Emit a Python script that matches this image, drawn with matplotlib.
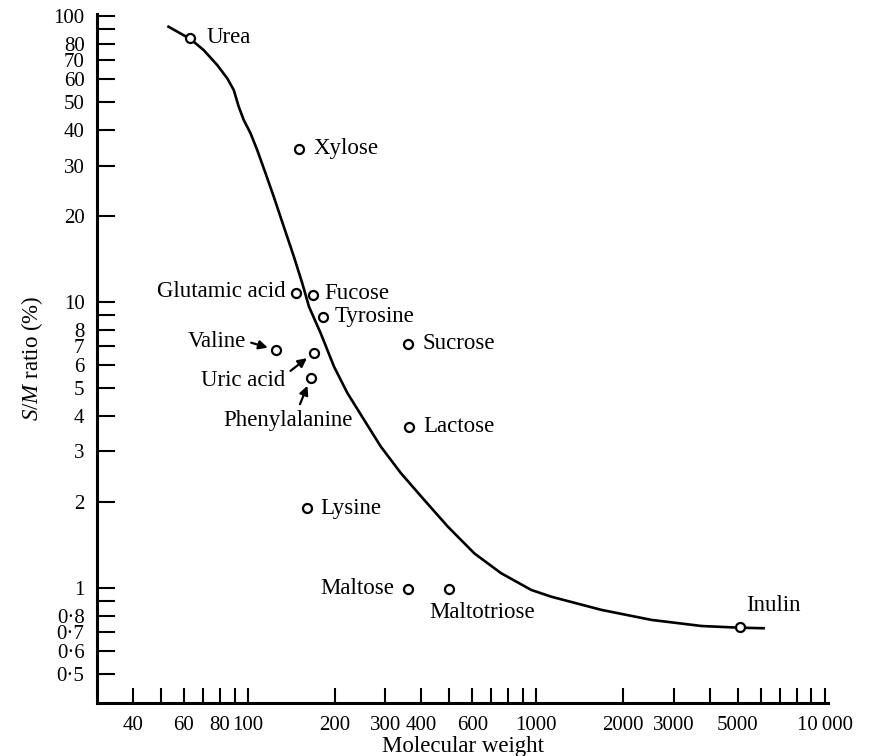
import matplotlib
matplotlib.use('Agg')
import matplotlib.pyplot as plt

# Compounds: molecular weight vs S/M ratio (%)
names = ['Urea', 'Xylose', 'Glutamic acid', 'Fucose', 'Tyrosine', 'Valine',
         'Uric acid', 'Phenylalanine', 'Sucrose', 'Lactose', 'Lysine',
         'Maltose', 'Maltotriose', 'Inulin']
mol_weight = [63, 150, 147, 168, 183, 125, 169, 165, 359, 361, 161, 359, 499, 5080]
sm_ratio = [84, 34.3, 10.75, 10.6, 8.86, 6.79, 6.63, 5.42, 7.13, 3.66, 1.90,
            0.995, 0.995, 0.731]

# fitted curve
curve_mw = [53.1, 63.2, 70.3, 78.3, 84.8, 89.4, 93.0, 96.8, 102.2, 107.8, 115.2,
            123.1, 133.4, 144.5, 154.6, 163.0, 179.0, 199.1, 221.6, 253.1, 289.3,
            339.6, 409.3, 493.5, 610.8, 756.0, 961.6, 1128, 1684, 2513, 3750,
            5096, 6146]
curve_ratio = [91.7, 83.1, 76.0, 67.4, 60.6, 55.1, 48.2, 43.3, 38.9, 34.0, 28.2,
               23.3, 18.3, 14.4, 11.6, 9.63, 7.77, 5.94, 4.80, 3.87, 3.12,
               2.52, 2.03, 1.64, 1.32, 1.126, 0.984, 0.932, 0.838, 0.773, 0.736,
               0.726, 0.723]

x_ticks = [40, 50, 60, 70, 80, 90, 100, 200, 300, 400, 500, 600, 700, 800, 900,
           1000, 2000, 3000, 4000, 5000, 6000, 7000, 8000, 9000, 10000]
x_labels = {40: '40', 60: '60', 80: '80', 100: '100', 200: '200', 300: '300',
            400: '400', 600: '600', 1000: '1000', 2000: '2000', 3000: '3000',
            5000: '5000', 10000: '10\u2009000'}
y_ticks = [0.5, 0.6, 0.7, 0.8, 0.9, 1, 2, 3, 4, 5, 6, 7, 8, 9, 10,
           20, 30, 40, 50, 60, 70, 80, 90, 100]
y_labels = {0.5: '0·5', 0.6: '0·6', 0.7: '0·7', 0.8: '0·8', 1: '1', 2: '2',
            3: '3', 4: '4', 5: '5', 6: '6', 7: '7', 8: '8', 10: '10', 20: '20',
            30: '30', 40: '40', 50: '50', 60: '60', 70: '70', 80: '80', 100: '100'}

# label placement: offset in pixels from the point, alignment, arrow
label_layout = {
    'Urea': ((17, 0), 'left', None),
    'Xylose': ((15, 0), 'left', None),
    'Glutamic acid': ((-10, 1), 'right', None),
    'Fucose': ((12, 1), 'left', None),
    'Tyrosine': ((11, 0), 'left', None),
    'Valine': ((-30, 9), 'right', (1.0, 0.5)),
    'Uric acid': ((-28, -27), 'right', (1.0, 0.75)),
    'Phenylalanine': ((-23, -42), 'center', (0.58, 1.0)),
    'Sucrose': ((15, 0), 'left', None),
    'Lactose': ((15, 0), 'left', None),
    'Lysine': ((13, 0), 'left', None),
    'Maltose': ((-14, 0), 'right', None),
    'Maltotriose': ((33, -24), 'center', None),
    'Inulin': ((34, 21), 'center', None),
}

plt.rcParams['font.family'] = ['Liberation Serif', 'DejaVu Serif']
plt.rcParams['mathtext.fontset'] = 'custom'
plt.rcParams['mathtext.rm'] = 'Liberation Serif'
plt.rcParams['mathtext.it'] = 'Liberation Serif:italic'

fig = plt.figure(figsize=(8.72, 7.56), dpi=100)
ax = fig.add_axes([97 / 872, 1 - 703 / 756, (828 - 97) / 872, (703 - 14) / 756])
ax.set_xscale('log')
ax.set_yscale('log')
ax.set_xlim(30, 10280)
ax.set_ylim(0.396, 101.6)

ax.plot(curve_mw, curve_ratio, '-', color='black', linewidth=1.9, zorder=2,
        solid_joinstyle='round')
ax.plot(mol_weight, sm_ratio, 'o', color='black', markersize=6.5,
        markerfacecolor='white', markeredgewidth=1.6, zorder=3)

for name, mw, r in zip(names, mol_weight, sm_ratio):
    offset, ha, relpos = label_layout[name]
    if relpos is None:
        ax.annotate(name, (mw, r), xytext=offset, textcoords='offset pixels',
                    ha=ha, va='center', fontsize=16.5)
    else:
        ax.annotate(name, (mw, r), xytext=offset, textcoords='offset pixels',
                    ha=ha, va='center', fontsize=16.5,
                    arrowprops=dict(arrowstyle='-|>', color='black', lw=1.6,
                                    mutation_scale=13, relpos=relpos,
                                    shrinkA=2, shrinkB=6))

ax.minorticks_off()
ax.set_xticks(x_ticks)
ax.set_xticklabels([x_labels.get(t, '') for t in x_ticks])
ax.set_yticks(y_ticks)
ax.set_yticklabels([y_labels.get(t, '') for t in y_ticks])
ax.minorticks_off()

ax.tick_params(axis='both', direction='in', length=11, width=1.5,
               labelsize=15, pad=9)
ax.tick_params(axis='y', length=13)

for side in ['top', 'right']:
    ax.spines[side].set_visible(False)
for side in ['left', 'bottom']:
    ax.spines[side].set_linewidth(2.2)

ax.set_xlabel('Molecular weight', fontsize=16.5, labelpad=1)
ax.set_ylabel(r'$S/M$ ratio (%)', fontsize=16.5, labelpad=6)

fig.savefig('out.png', dpi=100, facecolor='white')
